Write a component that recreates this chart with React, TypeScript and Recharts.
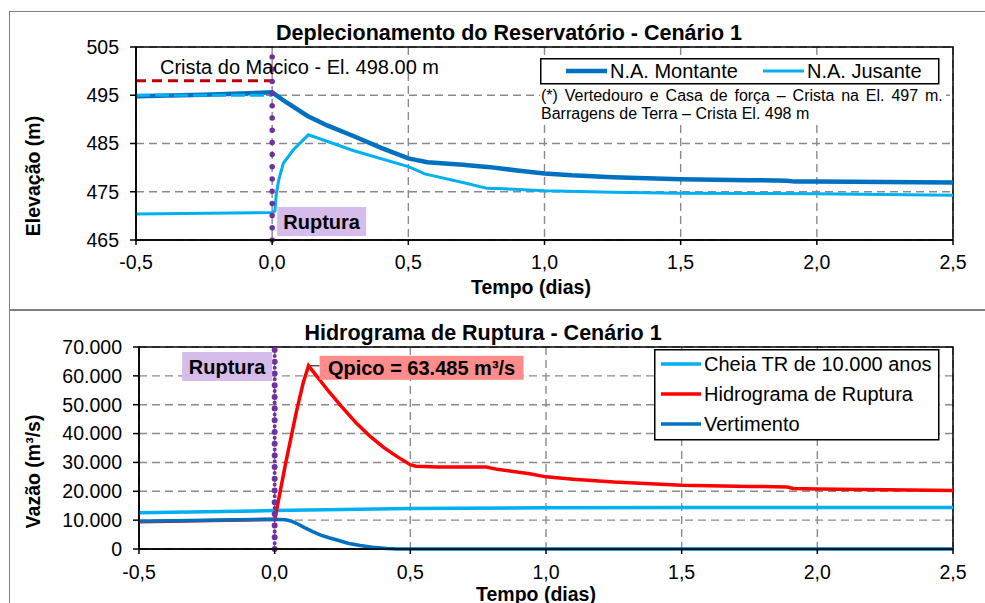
import React from 'react'
import {
  LineChart,
  Line,
  XAxis,
  YAxis,
  CartesianGrid,
  ReferenceLine,
  ReferenceArea,
  ReferenceDot,
  Legend,
} from 'recharts'

const FONT = 'Arial, "Liberation Sans", sans-serif'

// eixo x comum (dias)
const tempoTicks = [-0.5, 0, 0.5, 1, 1.5, 2, 2.5]
const elevTicks = [465, 475, 485, 495, 505]
const vazaoTicks = [0, 10000, 20000, 30000, 40000, 50000, 60000, 70000]

// [tempo (dias), elevação (m)]
const naMontante = [
  [-0.5, 494.8], [-0.25, 495.1], [0, 495.6], [0.05, 493.6], [0.13, 490.7],
  [0.2, 488.8], [0.3, 486.5], [0.4, 484.1], [0.5, 481.9], [0.57, 481.1],
  [0.7, 480.6], [0.8, 480.1], [0.9, 479.4], [1.0, 478.8], [1.1, 478.4],
  [1.25, 478.0], [1.5, 477.6], [1.75, 477.4], [1.89, 477.3], [1.92, 477.1],
  [2.0, 477.1], [2.25, 477.0], [2.5, 476.9],
]
const naJusante = [
  [-0.5, 470.4], [0, 470.7], [0.01, 471.0], [0.015, 474.5], [0.024, 477.4],
  [0.041, 480.9], [0.078, 483.7], [0.133, 486.8], [0.3, 483.5], [0.5, 480.2],
  [0.53, 479.5], [0.56, 478.7], [0.7, 476.9], [0.79, 475.7], [0.85, 475.6],
  [1.0, 475.2], [1.25, 474.9], [1.5, 474.7], [2.0, 474.6], [2.5, 474.3],
]
const naNormal = [[-0.5, 495.0], [0, 495.0]]

// [tempo (dias), vazão (m³/s)]
const cheiaTR = [
  [-0.5, 12600], [0, 13300], [0.5, 14000], [1.0, 14300], [1.5, 14400], [2.5, 14400],
]
const hidrograma = [
  [-0.5, 9400], [0, 10300], [0.002, 11000], [0.04, 29500], [0.08, 47500],
  [0.105, 57500], [0.125, 63485], [0.15, 60500], [0.2, 54500], [0.25, 49000],
  [0.3, 43700], [0.35, 39200], [0.4, 35300], [0.45, 32100], [0.5, 29200],
  [0.52, 28700], [0.55, 28600], [0.6, 28400], [0.78, 28400], [0.82, 27600],
  [0.94, 26100], [1.0, 25000], [1.1, 24200], [1.25, 23200], [1.5, 22100],
  [1.75, 21700], [1.89, 21500], [1.91, 21000], [2.0, 20800], [2.25, 20500],
  [2.5, 20300],
]
const vertimento = [
  [-0.5, 9600], [-0.25, 10000], [0, 10300], [0.02, 10250], [0.04, 10100],
  [0.06, 9700], [0.08, 8900], [0.11, 7400], [0.14, 6000], [0.17, 4800],
  [0.2, 3900], [0.23, 3100], [0.27, 2000], [0.315, 1200], [0.36, 600],
  [0.414, 150], [0.45, 30], [0.5, 0], [2.5, 0],
]

const CRISTA = 498
const QPICO = { t: 0.125, q: 63485 }

const ordemTopo = ['N.A. Montante', 'N.A. Jusante']
const ordemBaixo = ['Cheia TR de 10.000 anos', 'Hidrograma de Ruptura', 'Vertimento']

const toPts = (arr: number[][]) => arr.map(([t, v]) => ({ t, v }))

const fmtDias = (v: number) => v.toFixed(1).replace('.', ',')
const fmtMil = (v: number) => String(v).replace(/\B(?=(\d{3})+(?!\d))/g, '.')

const tickStyle = { fill: '#000', fontSize: 19.5, fontFamily: FONT }
const gridColor = '#8a8a8a'
const purple = '#7030A0'

// espessura das linhas na legenda
const legendWidth: Record<string, number> = {
  'N.A. Montante': 4.5,
  'N.A. Jusante': 3,
  'Cheia TR de 10.000 anos': 3.5,
  'Hidrograma de Ruptura': 3.5,
  Vertimento: 3.5,
}

const ordenar = (payload: any[] = [], ordem: string[]) =>
  ordem.map((nome) => payload.find((p) => p.value === nome)).filter(Boolean)

function LegendaTopo({ payload }: any) {
  const items = ordenar(payload, ordemTopo)
  const pos = [26, 223]
  return (
    <svg width={400} height={27} style={{ display: 'block' }}>
      <rect x={0.75} y={0.75} width={398} height={25} fill="#fff" stroke="#000" strokeWidth={1.5} />
      {items.map((it: any, i: number) => (
        <g key={i}>
          <line x1={pos[i]} x2={pos[i] + 41} y1={13} y2={13} stroke={it.color} strokeWidth={legendWidth[it.value] || 3} />
          <text x={pos[i] + 44} y={19.8} fontSize={20} fontFamily={FONT} fill="#000">{it.value}</text>
        </g>
      ))}
    </svg>
  )
}

function LegendaBaixo({ payload }: any) {
  const items = ordenar(payload, ordemBaixo)
  return (
    <svg width={286} height={92} style={{ display: 'block' }}>
      <rect x={0.75} y={0.75} width={284} height={90} fill="#fff" stroke="#000" strokeWidth={1.5} />
      {items.map((it: any, i: number) => (
        <g key={i}>
          <line x1={7} x2={47} y1={15 + i * 30} y2={15 + i * 30} stroke={it.color} strokeWidth={legendWidth[it.value] || 3} />
          <text x={50} y={22 + i * 30} fontSize={20} fontFamily={FONT} fill="#000">{it.value}</text>
        </g>
      ))}
    </svg>
  )
}

// rótulo "Ruptura" junto à linha de ruptura
function RupturaAbaixo({ viewBox }: any) {
  if (!viewBox) return null
  const x = viewBox.x + 5
  const y = viewBox.y + viewBox.height - 33
  return (
    <g>
      <rect x={x} y={y} width={89} height={29} fill="#D5BCEA" />
      <text x={x + 44.5} y={y + 21.5} textAnchor="middle" fontSize={20} fontWeight="bold" fontFamily={FONT} fill="#000">Ruptura</text>
    </g>
  )
}

function RupturaAcima({ viewBox }: any) {
  if (!viewBox) return null
  const x = viewBox.x - 92.5
  const y = viewBox.y + 5
  return (
    <g>
      <rect x={x} y={y} width={90} height={29} fill="#D5BCEA" />
      <text x={x + 45} y={y + 22} textAnchor="middle" fontSize={20} fontWeight="bold" fontFamily={FONT} fill="#000">Ruptura</text>
    </g>
  )
}

function QpicoShape({ cx, cy }: any) {
  const bx = cx + 11
  const by = cy - 10
  return (
    <g>
      <line x1={cx + 2} x2={bx} y1={cy} y2={cy} stroke="#000" strokeWidth={1} />
      <rect x={bx} y={by} width={204} height={24} fill="#FF8C8C" />
      <text x={bx + 102} y={by + 19} textAnchor="middle" fontSize={20} fontWeight="bold" fontFamily={FONT} fill="#000">
        Qpico = 63.485 m³/s
      </text>
    </g>
  )
}

export default function App() {
  return (
    <div style={{ position: 'absolute', left: 0, top: 0, width: 985, height: 603, background: '#fff', overflow: 'hidden', fontFamily: FONT }}>
      {/* molduras */}
      <div style={{ position: 'absolute', left: 9, top: 11, width: 990, height: 297, border: '1.3px solid #7f7f7f' }} />
      <div style={{ position: 'absolute', left: 9, top: 310, width: 990, height: 310, border: '1.3px solid #7f7f7f' }} />

      {/* Deplecionamento */}
      <div style={{ position: 'absolute', left: 0, top: 0 }}>
        <LineChart width={985} height={310} margin={{ top: 47, right: 32, bottom: 30, left: 76 }}>
          <CartesianGrid stroke={gridColor} strokeWidth={1.4} strokeDasharray="8 5" />
          <XAxis
            type="number"
            dataKey="t"
            domain={[-0.5, 2.5]}
            ticks={tempoTicks}
            interval={0}
            tickFormatter={fmtDias}
            height={40}
            tick={tickStyle}
            tickSize={5}
            tickMargin={10}
            axisLine={{ stroke: '#000', strokeWidth: 1.5 }}
            tickLine={{ stroke: '#000', strokeWidth: 1.5 }}
          />
          <YAxis
            type="number"
            domain={[465, 505]}
            ticks={elevTicks}
            interval={0}
            width={60}
            tick={tickStyle}
            tickSize={6}
            tickMargin={11}
            axisLine={{ stroke: '#000', strokeWidth: 1.5 }}
            tickLine={{ stroke: '#000', strokeWidth: 1.5 }}
          />
          <ReferenceArea x1={-0.5} x2={2.5} y1={465} y2={505} fill="none" stroke="#000" strokeWidth={1.5} />
          <ReferenceLine
            segment={[{ x: -0.5, y: CRISTA }, { x: 0, y: CRISTA }]}
            stroke="#C00000"
            strokeWidth={3}
            strokeDasharray="10 6"
          />
          <Line data={toPts(naMontante)} dataKey="v" name="N.A. Montante" stroke="#0070C0" strokeWidth={4.5} dot={false} isAnimationActive={false} />
          <Line data={toPts(naJusante)} dataKey="v" name="N.A. Jusante" stroke="#00B0F0" strokeWidth={3} dot={false} isAnimationActive={false} />
          <Line data={toPts(naNormal)} dataKey="v" name="N.A. Normal" stroke="#00B0F0" strokeWidth={3} strokeDasharray="14 5" dot={false} legendType="none" isAnimationActive={false} />
          <ReferenceLine
            x={0}
            stroke={purple}
            strokeWidth={5.5}
            strokeDasharray="0 12.2"
            strokeLinecap="round"
            label={<RupturaAbaixo />}
          />
          <Legend
            verticalAlign="middle"
            align="center"
            content={<LegendaTopo />}
            wrapperStyle={{ left: 540, top: 58, width: 400, height: 27 }}
          />
        </LineChart>
      </div>

      {/* Hidrograma */}
      <div style={{ position: 'absolute', left: 0, top: 310 }}>
        <LineChart width={985} height={293} margin={{ top: 37, right: 32, bottom: 14, left: 59 }}>
          <CartesianGrid stroke={gridColor} strokeWidth={1.4} strokeDasharray="8 5" />
          <XAxis
            type="number"
            dataKey="t"
            domain={[-0.5, 2.5]}
            ticks={tempoTicks}
            interval={0}
            tickFormatter={fmtDias}
            height={40}
            tick={tickStyle}
            tickSize={5}
            tickMargin={11}
            axisLine={{ stroke: '#000', strokeWidth: 1.5 }}
            tickLine={{ stroke: '#000', strokeWidth: 1.5 }}
          />
          <YAxis
            type="number"
            domain={[0, 70000]}
            ticks={vazaoTicks}
            interval={0}
            tickFormatter={fmtMil}
            width={80}
            tick={tickStyle}
            tickSize={6}
            tickMargin={11}
            axisLine={{ stroke: '#000', strokeWidth: 1.5 }}
            tickLine={{ stroke: '#000', strokeWidth: 1.5 }}
          />
          <ReferenceArea x1={-0.5} x2={2.5} y1={0} y2={70000} fill="none" stroke="#000" strokeWidth={1.5} />
          <Line data={toPts(cheiaTR)} dataKey="v" name="Cheia TR de 10.000 anos" stroke="#00B0F0" strokeWidth={3.5} dot={false} isAnimationActive={false} />
          <Line data={toPts(hidrograma)} dataKey="v" name="Hidrograma de Ruptura" stroke="#FF0000" strokeWidth={3.5} dot={false} isAnimationActive={false} />
          <Line data={toPts(vertimento)} dataKey="v" name="Vertimento" stroke="#0070C0" strokeWidth={3.5} dot={false} isAnimationActive={false} />
          <ReferenceLine x={0} stroke={purple} strokeWidth={4} strokeDasharray="0 5.85" strokeLinecap="round" />
          <ReferenceLine
            x={0}
            stroke={purple}
            strokeWidth={6}
            strokeDasharray="0 11.7"
            strokeLinecap="round"
            label={<RupturaAcima />}
          />
          <ReferenceDot x={QPICO.t} y={QPICO.q} r={0} shape={(p: any) => <QpicoShape {...p} />} />
          <Legend
            verticalAlign="middle"
            align="center"
            content={<LegendaBaixo />}
            wrapperStyle={{ left: 654, top: 39, width: 286, height: 92 }}
          />
        </LineChart>
      </div>

      {/* títulos e notas */}
      <svg width={985} height={603} style={{ position: 'absolute', left: 0, top: 0, pointerEvents: 'none' }}>
        <text x={509} y={40} textAnchor="middle" fontSize={21.5} fontWeight="bold" fontFamily={FONT}>
          Deplecionamento do Reservatório - Cenário 1
        </text>
        <text x={160} y={74} fontSize={20} fontFamily={FONT}>Crista do Macico - El. 498.00 m</text>
        <rect x={540} y={85} width={406} height={38} fill="#fff" />
        <text x={541} y={101} fontSize={16} fontFamily={FONT} style={{ wordSpacing: '2.4px' }}>
          (*) Vertedouro e Casa de força – Crista na El. 497 m.
        </text>
        <text x={541} y={119} fontSize={16} fontFamily={FONT}>Barragens de Terra – Crista El. 498 m</text>
        <text x={531} y={294} textAnchor="middle" fontSize={19.5} fontWeight="bold" fontFamily={FONT}>Tempo (dias)</text>
        <text transform="translate(39.5,176) rotate(-90)" textAnchor="middle" fontSize={19.5} fontWeight="bold" fontFamily={FONT}>
          Elevação (m)
        </text>

        <text x={483} y={339.5} textAnchor="middle" fontSize={21.5} fontWeight="bold" fontFamily={FONT}>
          Hidrograma de Ruptura - Cenário 1
        </text>
        <text x={536} y={601} textAnchor="middle" fontSize={19.5} fontWeight="bold" fontFamily={FONT}>Tempo (dias)</text>
        <text transform="translate(39.5,471.5) rotate(-90)" textAnchor="middle" fontSize={19.5} fontWeight="bold" fontFamily={FONT}>
          Vazão (m³/s)
        </text>
      </svg>
    </div>
  )
}
